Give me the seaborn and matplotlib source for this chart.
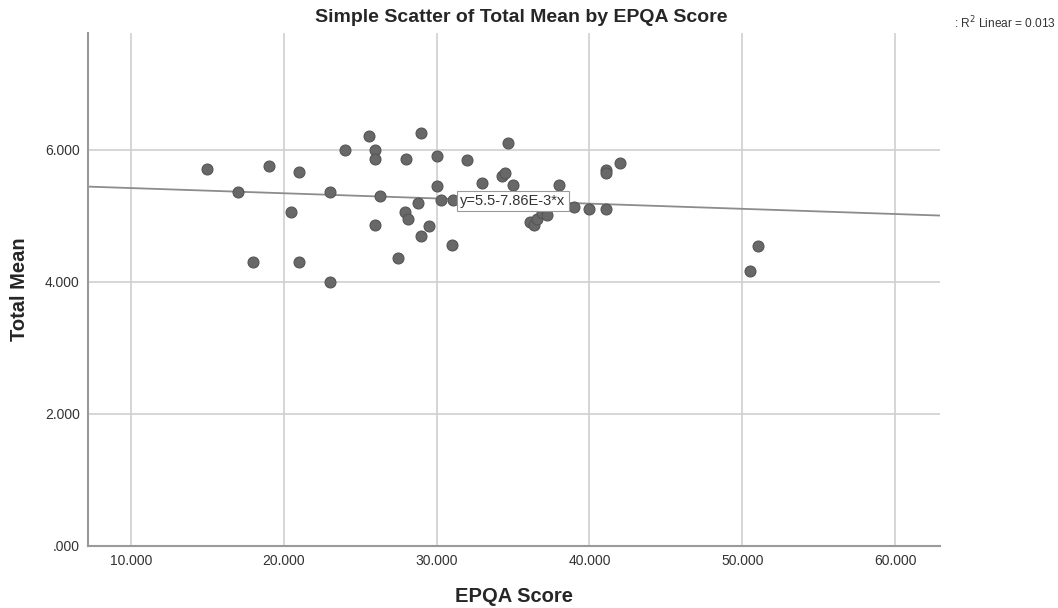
import numpy as np
import pandas as pd
import matplotlib
matplotlib.use("Agg")
import matplotlib.pyplot as plt
import seaborn as sns

# values
epqa_score = [15.0, 17.0, 18.0, 19.0, 20.5, 21.0, 21.0, 23.0, 23.0, 24.0,
              25.6, 26.0, 26.0, 26.0, 26.3, 27.5, 28.0, 27.9, 28.1, 28.8,
              29.0, 29.0, 29.5, 30.0, 30.0, 30.3, 31.1, 31.0, 32.0, 33.0,
              34.3, 34.5, 34.7, 35.0, 38.0, 36.1, 36.4, 36.6, 36.9, 37.2,
              39.0, 40.0, 41.1, 41.1, 41.1, 42.0, 50.5, 51.0]
total_mean = [5.71, 5.36, 4.30, 5.76, 5.06, 5.67, 4.30, 5.36, 4.00, 6.00,
              6.21, 6.00, 5.86, 4.86, 5.30, 4.36, 5.86, 5.06, 4.95, 5.20,
              6.25, 4.70, 4.85, 5.91, 5.45, 5.24, 5.24, 4.56, 5.85, 5.50,
              5.60, 5.65, 6.10, 5.47, 5.47, 4.91, 4.86, 4.96, 5.04, 5.02,
              5.13, 5.10, 5.10, 5.70, 5.65, 5.80, 4.16, 4.55]

# fit line reported in the chart
intercept = 5.5
slope = -7.86e-3
r_squared = 0.013

x_ticks = [10, 20, 30, 40, 50, 60]
y_ticks = [0, 2, 4, 6]

df = pd.DataFrame({"EPQA Score": epqa_score, "Total Mean": total_mean})

sns.set_style("white")
plt.rcParams["font.family"] = ["Liberation Sans", "DejaVu Sans"]

fig = plt.figure(figsize=(10.58, 6.08), dpi=100)
ax = fig.add_axes([0.0832, 0.102, 0.8053, 0.8437])

ax.grid(True, color="#cfcfcf", linewidth=1.2)
ax.set_axisbelow(True)

sns.scatterplot(data=df, x="EPQA Score", y="Total Mean", ax=ax,
                color="#686868", edgecolor="#555555", linewidth=0.8,
                s=62, zorder=3)

ax.axline((0, intercept), slope=slope, color="#8c8c8c", linewidth=1.3, zorder=2)

ax.set_xlim(7.19, 62.94)
ax.set_ylim(0, 7.77)
ax.set_xticks(x_ticks)
ax.set_yticks(y_ticks)
ax.set_xticklabels([f"{v:.3f}" for v in x_ticks], fontsize=10, color="#333333")
ax.set_yticklabels([f"{v:.3f}".lstrip("0") if v == 0 else f"{v:.3f}" for v in y_ticks],
                   fontsize=10, color="#333333")
ax.tick_params(length=0, pad=6)

for side in ["top", "right"]:
    ax.spines[side].set_visible(False)
for side in ["left", "bottom"]:
    ax.spines[side].set_color("#9a9a9a")
    ax.spines[side].set_linewidth(1.5)

ax.set_xlabel("EPQA Score", fontsize=14.5, fontweight="bold", va="center")
ax.set_ylabel("Total Mean", fontsize=14.5, fontweight="bold", va="center")
ax.xaxis.set_label_coords(0.5, -0.099)
ax.yaxis.set_label_coords(-0.081, 0.5)

# equation label sitting on the fit line
lx = 35.0
ax.text(lx, intercept + slope * lx, f"y={intercept}-{abs(slope) * 1000:.2f}E-3*x",
        fontsize=10.5, color="#333333", ha="center", va="center", zorder=4,
        bbox=dict(boxstyle="square,pad=0.22", facecolor="white",
                  edgecolor="#9a9a9a", linewidth=0.8))

fig.text(0.493, 0.971, "Simple Scatter of Total Mean by EPQA Score",
         fontsize=14, fontweight="bold", ha="center", va="center")
fig.text(0.902, 0.962, f": R$^2$ Linear = {r_squared:.3f}", fontsize=8.6,
         ha="left", va="center", color="#333333")

fig.savefig("out.png", dpi=100)
